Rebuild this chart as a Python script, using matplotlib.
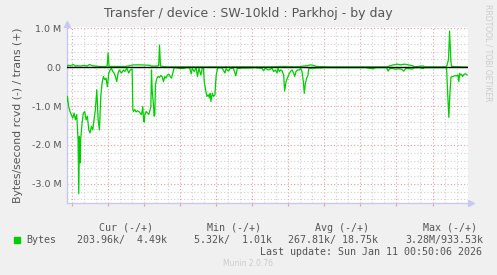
"""Munin : transfert par équipement SW-10kld (Parkhoj), vue journalière."""

import matplotlib
matplotlib.use("Agg")
import matplotlib.pyplot as plt
from matplotlib.patches import Rectangle

# heures depuis ven. 18:00, débit reçu (négatif) en MB/s
rcvd_hours = [
    -2.44, -2.39, -2.28, -2.17, -2.06, -1.94, -1.83, -1.72, -1.61, -1.50,
    -1.44, -1.39, -1.33, -1.28, -1.17, -1.06, -0.94, -0.83, -0.72, -0.61,
    -0.50, -0.39, -0.28, -0.17, -0.06, 0.06, 0.17, 0.28, 0.39, 0.50,
    0.61, 0.72, 0.83, 0.94, 1.06, 1.17, 1.28, 1.39, 1.50, 1.61,
    1.72, 1.83, 1.94, 2.11, 2.28, 2.39, 2.56, 2.72, 2.83, 3.00,
    3.06, 3.11, 3.22, 3.33, 3.44, 3.56, 3.67, 3.78, 3.89, 3.94,
    4.00, 4.06, 4.17, 4.28, 4.39, 4.50, 4.56, 4.61, 4.67, 4.78,
    4.83, 4.89, 4.94, 5.06, 5.17, 5.28, 5.39, 5.50, 5.61, 5.72,
    5.83, 5.94, 6.06, 6.17, 6.28, 6.39, 6.50, 6.72, 7.00, 7.28,
    7.56, 7.78, 7.92, 8.00, 8.17, 8.33, 8.44, 8.56, 8.72, 8.83,
    8.94, 9.00, 9.11, 9.22, 9.33, 9.44, 9.50, 9.56, 9.67, 9.78,
    9.89, 9.94, 10.00, 10.11, 10.22, 10.50, 10.72, 10.83, 11.00, 11.17,
    11.42, 11.63, 11.75, 12.17, 12.67, 13.25, 13.81, 13.94, 14.08, 14.36,
    14.64, 14.78, 14.92, 15.06, 15.14, 15.25, 15.36, 15.47, 15.61, 15.69,
    15.81, 15.92, 16.03, 16.17, 16.31, 16.44, 16.53, 16.64, 16.75, 16.92,
    17.03, 17.14, 17.25, 17.33, 17.42, 17.53, 17.64, 17.69, 17.83, 18.25,
    19.08, 19.92, 20.75, 21.58, 22.42, 23.08, 23.25, 24.17, 24.31, 24.42,
    24.67, 24.92, 25.17, 25.42, 25.61, 25.75, 26.00, 26.31, 26.50, 27.00,
    27.08, 27.25, 27.33, 28.25, 29.17, 29.25, 29.36, 29.46, 29.54, 29.67,
    29.83, 30.00, 30.11, 30.19, 30.25, 30.33, 30.42, 30.50, 30.63, 30.75,
    30.88,
]
rcvd = [
    -0.88, -0.75, -1.01, -1.14, -1.22, -1.31, -1.18, -1.35, -1.22, -1.86,
    -3.25, -1.78, -2.46, -1.86, -1.44, -1.18, -1.14, -1.35, -1.26, -1.61,
    -1.69, -1.52, -1.61, -1.35, -1.09, -0.58, -1.35, -1.61, -0.75, -0.41,
    -0.24, -0.32, -0.28, -0.50, -0.15, -0.07, -0.03, -0.11, -0.15, -0.24,
    -0.37, -0.15, -0.07, -0.15, -0.07, -0.11, -0.03, -0.15, -0.07, -0.05,
    -1.09, -1.14, -1.09, -1.15, -1.12, -1.14, -1.18, -1.22, -1.01, -1.31,
    -1.41, -1.22, -1.14, -1.18, -1.21, -1.09, -1.01, -0.07, -0.62, -0.97,
    -1.26, -1.22, -0.45, -0.28, -0.24, -0.26, -0.21, -0.24, -0.37, -0.24,
    -0.28, -0.20, -0.18, -0.24, -0.28, -0.15, -0.01, -0.02, -0.03, -0.03,
    -0.01, -0.01, -0.17, -0.03, -0.11, -0.01, -0.24, -0.03, -0.20, -0.03,
    -0.03, -0.37, -0.58, -0.75, -0.71, -0.79, -0.67, -0.88, -0.67, -0.75,
    -0.71, -0.45, -0.20, -0.03, -0.01, -0.02, -0.15, -0.04, -0.10, -0.03,
    -0.02, -0.22, -0.03, -0.02, -0.02, -0.01, -0.03, -0.09, -0.03, -0.07,
    -0.03, -0.11, -0.07, -0.15, -0.03, -0.11, -0.07, -0.09, -0.20, -0.61,
    -0.37, -0.28, -0.20, -0.11, -0.07, -0.15, -0.24, -0.11, -0.07, -0.07,
    -0.03, -0.11, -0.37, -0.67, -0.41, -0.28, -0.20, -0.04, -0.03, -0.02,
    -0.01, -0.01, -0.01, -0.01, -0.01, -0.04, -0.01, -0.01, -0.10, -0.04,
    -0.03, -0.05, -0.04, -0.05, -0.10, -0.04, -0.03, -0.05, -0.01, -0.01,
    -0.03, -0.03, -0.01, -0.01, -0.01, -0.60, -1.29, -0.60, -0.25, -0.24,
    -0.22, -0.22, -0.20, -0.37, -0.16, -0.20, -0.18, -0.24, -0.18, -0.17,
    -0.20,
]

# débit émis (positif) en MB/s
trans_hours = [
    -2.44, -2.33, -2.11, -1.89, -1.72, -1.56, -1.28, -1.00, -0.72, -0.56,
    -0.31, -0.03, 0.25, 0.53, 0.81, 0.92, 1.00, 1.08, 1.58, 2.42,
    2.83, 3.08, 3.67, 4.50, 4.58, 5.00, 5.21, 5.28, 5.36, 5.75,
    14.50, 15.33, 15.75, 16.67, 17.58, 17.83, 18.08, 18.33, 19.50, 24.17,
    24.50, 24.75, 25.08, 25.33, 25.67, 26.00, 26.33, 26.50, 27.08, 27.25,
    27.33, 29.17, 29.33, 29.42, 29.53, 29.58, 30.88,
]
trans = [
    0.02, 0.05, 0.04, 0.07, 0.03, 0.04, 0.03, 0.05, 0.03, 0.07,
    0.04, 0.03, 0.02, 0.02, 0.02, 0.03, 0.37, 0.02, 0.02, 0.02,
    0.04, 0.06, 0.06, 0.05, 0.03, 0.03, 0.04, 0.57, 0.03, 0.01,
    0.01, 0.02, 0.02, 0.01, 0.04, 0.06, 0.05, 0.02, 0.01, 0.01,
    0.04, 0.06, 0.08, 0.06, 0.08, 0.06, 0.04, 0.01, 0.03, 0.03,
    0.01, 0.01, 0.20, 0.93, 0.15, 0.02, 0.0045,
]

x_tick_hours = [0, 6, 12, 18, 24, 30]
x_tick_labels = ["Fri 18:00", "Sat 00:00", "Sat 06:00", "Sat 12:00", "Sat 18:00", "Sun 00:00"]
y_ticks = [-3, -2, -1, 0, 1]
y_tick_labels = ["-3.0 M", "-2.0 M", "-1.0 M", "0.0", "1.0 M"]

legend_headers = ["Cur (-/+)", "Min (-/+)", "Avg (-/+)", "Max (-/+)"]
legend_values = ["203.96k/  4.49k", "5.32k/  1.01k", "267.81k/ 18.75k", "3.28M/933.53k"]

BG = "#F0F0F0"
INK = "#555555"
GREEN = "#00CC00"
AXIS = "#C8C8F0"

W, H = 497, 275
fig = plt.figure(figsize=(W / 100, H / 100), dpi=100)
fig.patch.set_facecolor(BG)
ax = fig.add_axes([67 / W, 1 - 203.3 / H, 400.6 / W, (203.3 - 26.8) / H])
ax.set_facecolor("white")

ax.plot(rcvd_hours, rcvd, color=GREEN, linewidth=0.9, zorder=4)
ax.plot(trans_hours, trans, color=GREEN, linewidth=0.9, zorder=4)
ax.axhline(0, color="black", linewidth=1, zorder=5)

ax.set_xlim(-2.42, 30.92)
ax.set_ylim(-3.5, 1.04)

ax.set_xticks(range(-2, 31, 3))
ax.set_xticklabels([x_tick_labels[x_tick_hours.index(h)] if h in x_tick_hours else "" for h in range(-2, 31, 3)])
ax.set_xticks(range(-2, 31), minor=True)
ax.set_yticks(y_ticks)
ax.set_yticklabels(y_tick_labels)
ax.set_yticks([v / 5 for v in range(-17, 6)], minor=True)

ax.grid(which="minor", color="#D0D0D0", linestyle=(0, (1, 2)), linewidth=0.8)
ax.grid(which="major", color="#E6A0A0", linestyle=(0, (1, 2)), linewidth=0.8)
ax.set_axisbelow(True)

ax.tick_params(axis="both", which="both", colors=INK, labelsize=6.8, length=0, pad=4)
ax.tick_params(axis="x", which="major", length=2, color="#E6A0A0", pad=5)

for side in ("top", "right"):
    ax.spines[side].set_visible(False)
for side in ("left", "bottom"):
    ax.spines[side].set_color(AXIS)
    ax.spines[side].set_linewidth(1)
ax.plot([0], [1.015], marker="^", markersize=4, color=AXIS, transform=ax.transAxes, clip_on=False)
ax.plot([1.008], [0], marker=">", markersize=4, color=AXIS, transform=ax.transAxes, clip_on=False)

ax.set_ylabel("Bytes/second rcvd (-) / trans (+)", color=INK, fontsize=7.8, labelpad=6)
fig.text(248 / W, 1 - 13 / H, "Transfer / device : SW-10kld : Parkhoj - by day",
         ha="center", va="center", color=INK, fontsize=9.0)
fig.text(488 / W, 1 - 53 / H, "RRDTOOL / TOBI OETIKER", rotation=270,
         ha="center", va="center", color="#CCCCCC", fontsize=5.5)

mono = {"family": "DejaVu Sans Mono", "fontsize": 7.2, "color": INK, "va": "center"}
for label, x in zip(legend_headers, [98.7, 206.7, 315, 422.7]):
    fig.text(x / W, 1 - 227.7 / H, label, **mono)
fig.text(26.7 / W, 1 - 240 / H, "Bytes", **mono)
for label, x in zip(legend_values, [76.7, 194.3, 287.7, 405]):
    fig.text(x / W, 1 - 240 / H, label, **mono)
fig.add_artist(Rectangle((14 / W, 1 - 242.5 / H), 5.5 / W, 5.5 / H,
                         transform=fig.transFigure, color=GREEN))
fig.text(482 / W, 1 - 251.7 / H, "Last update: Sun Jan 11 00:50:06 2026", ha="right", **mono)
fig.text(248 / W, 1 - 264 / H, "Munin 2.0.76", ha="center", va="center",
         color="#CCCCCC", fontsize=5.5)

fig.savefig("out.png", dpi=100, facecolor=BG)
